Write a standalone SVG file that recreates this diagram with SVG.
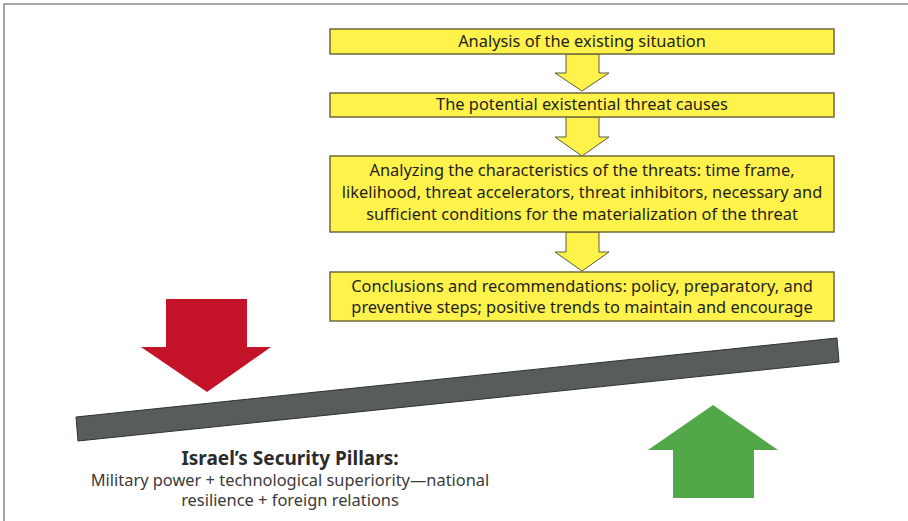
<svg xmlns="http://www.w3.org/2000/svg" width="908" height="521" viewBox="0 0 908 521">
<style>
.box{fill:#fff24a;stroke:#6f6a3c;stroke-width:1.5}
.flow{fill:#fff24a;stroke:#5a5a40;stroke-width:1}
.t{font-family:"Noto Sans","Liberation Sans",sans-serif;font-size:16.4px;fill:#231f20;text-anchor:middle}
.h{font-family:"Noto Sans","Liberation Sans",sans-serif;font-size:19px;font-weight:bold;fill:#2b2b2b;text-anchor:middle}
.s{font-family:"Noto Sans","Liberation Sans",sans-serif;font-size:16.4px;fill:#3a3a3a;text-anchor:middle}
</style>
<rect width="908" height="521" fill="#ffffff"/>
<path d="M4 521 V4 H908" fill="none" stroke="#8a8a8a" stroke-width="1.5"/>
<g id="connectors">
<polygon class="flow" points="566,54 599,54 599,73 609,73 582,91 555,73 566,73"/>
<polygon class="flow" points="566,117 599,117 599,137 609,137 582,156 555,137 566,137"/>
<polygon class="flow" points="566,232 599,232 599,252 609,252 582,271 555,252 566,252"/>
</g>
<g id="box1">
<rect class="box" x="330" y="29" width="504" height="25"/>
<text class="t" x="582" y="47">Analysis of the existing situation</text>
</g>
<g id="box2">
<rect class="box" x="330" y="93" width="504" height="24"/>
<text class="t" x="582" y="110">The potential existential threat causes</text>
</g>
<g id="box3">
<rect class="box" x="330" y="156" width="504" height="76"/>
<text class="t" x="582" y="176">Analyzing the characteristics of the threats: time frame,</text>
<text class="t" x="582" y="198">likelihood, threat accelerators, threat inhibitors, necessary and</text>
<text class="t" x="582" y="220">sufficient conditions for the materialization of the threat</text>
</g>
<g id="box4">
<rect class="box" x="330" y="272" width="504" height="49"/>
<text class="t" x="582" y="292">Conclusions and recommendations: policy, preparatory, and</text>
<text class="t" x="582" y="313">preventive steps; positive trends to maintain and encourage</text>
</g>
<g id="threat-arrow">
<polygon fill="#c41329" points="166,299 247,299 247,347 271,347 207,392 141,347 166,347"/>
</g>
<g id="beam">
<polygon fill="#575d5a" stroke="#2f3230" stroke-width="1" points="76,417 837,338 839,362 78,441"/>
</g>
<g id="support-arrow">
<polygon fill="#52a748" points="713,405 778,450 754,450 754,498 673,498 673,450 648,450"/>
</g>
<g id="pillars">
<text class="h" x="290" y="465">Israel’s Security Pillars:</text>
<text class="s" x="290" y="486">Military power + technological superiority—national</text>
<text class="s" x="290" y="506">resilience + foreign relations</text>
</g>
</svg>
